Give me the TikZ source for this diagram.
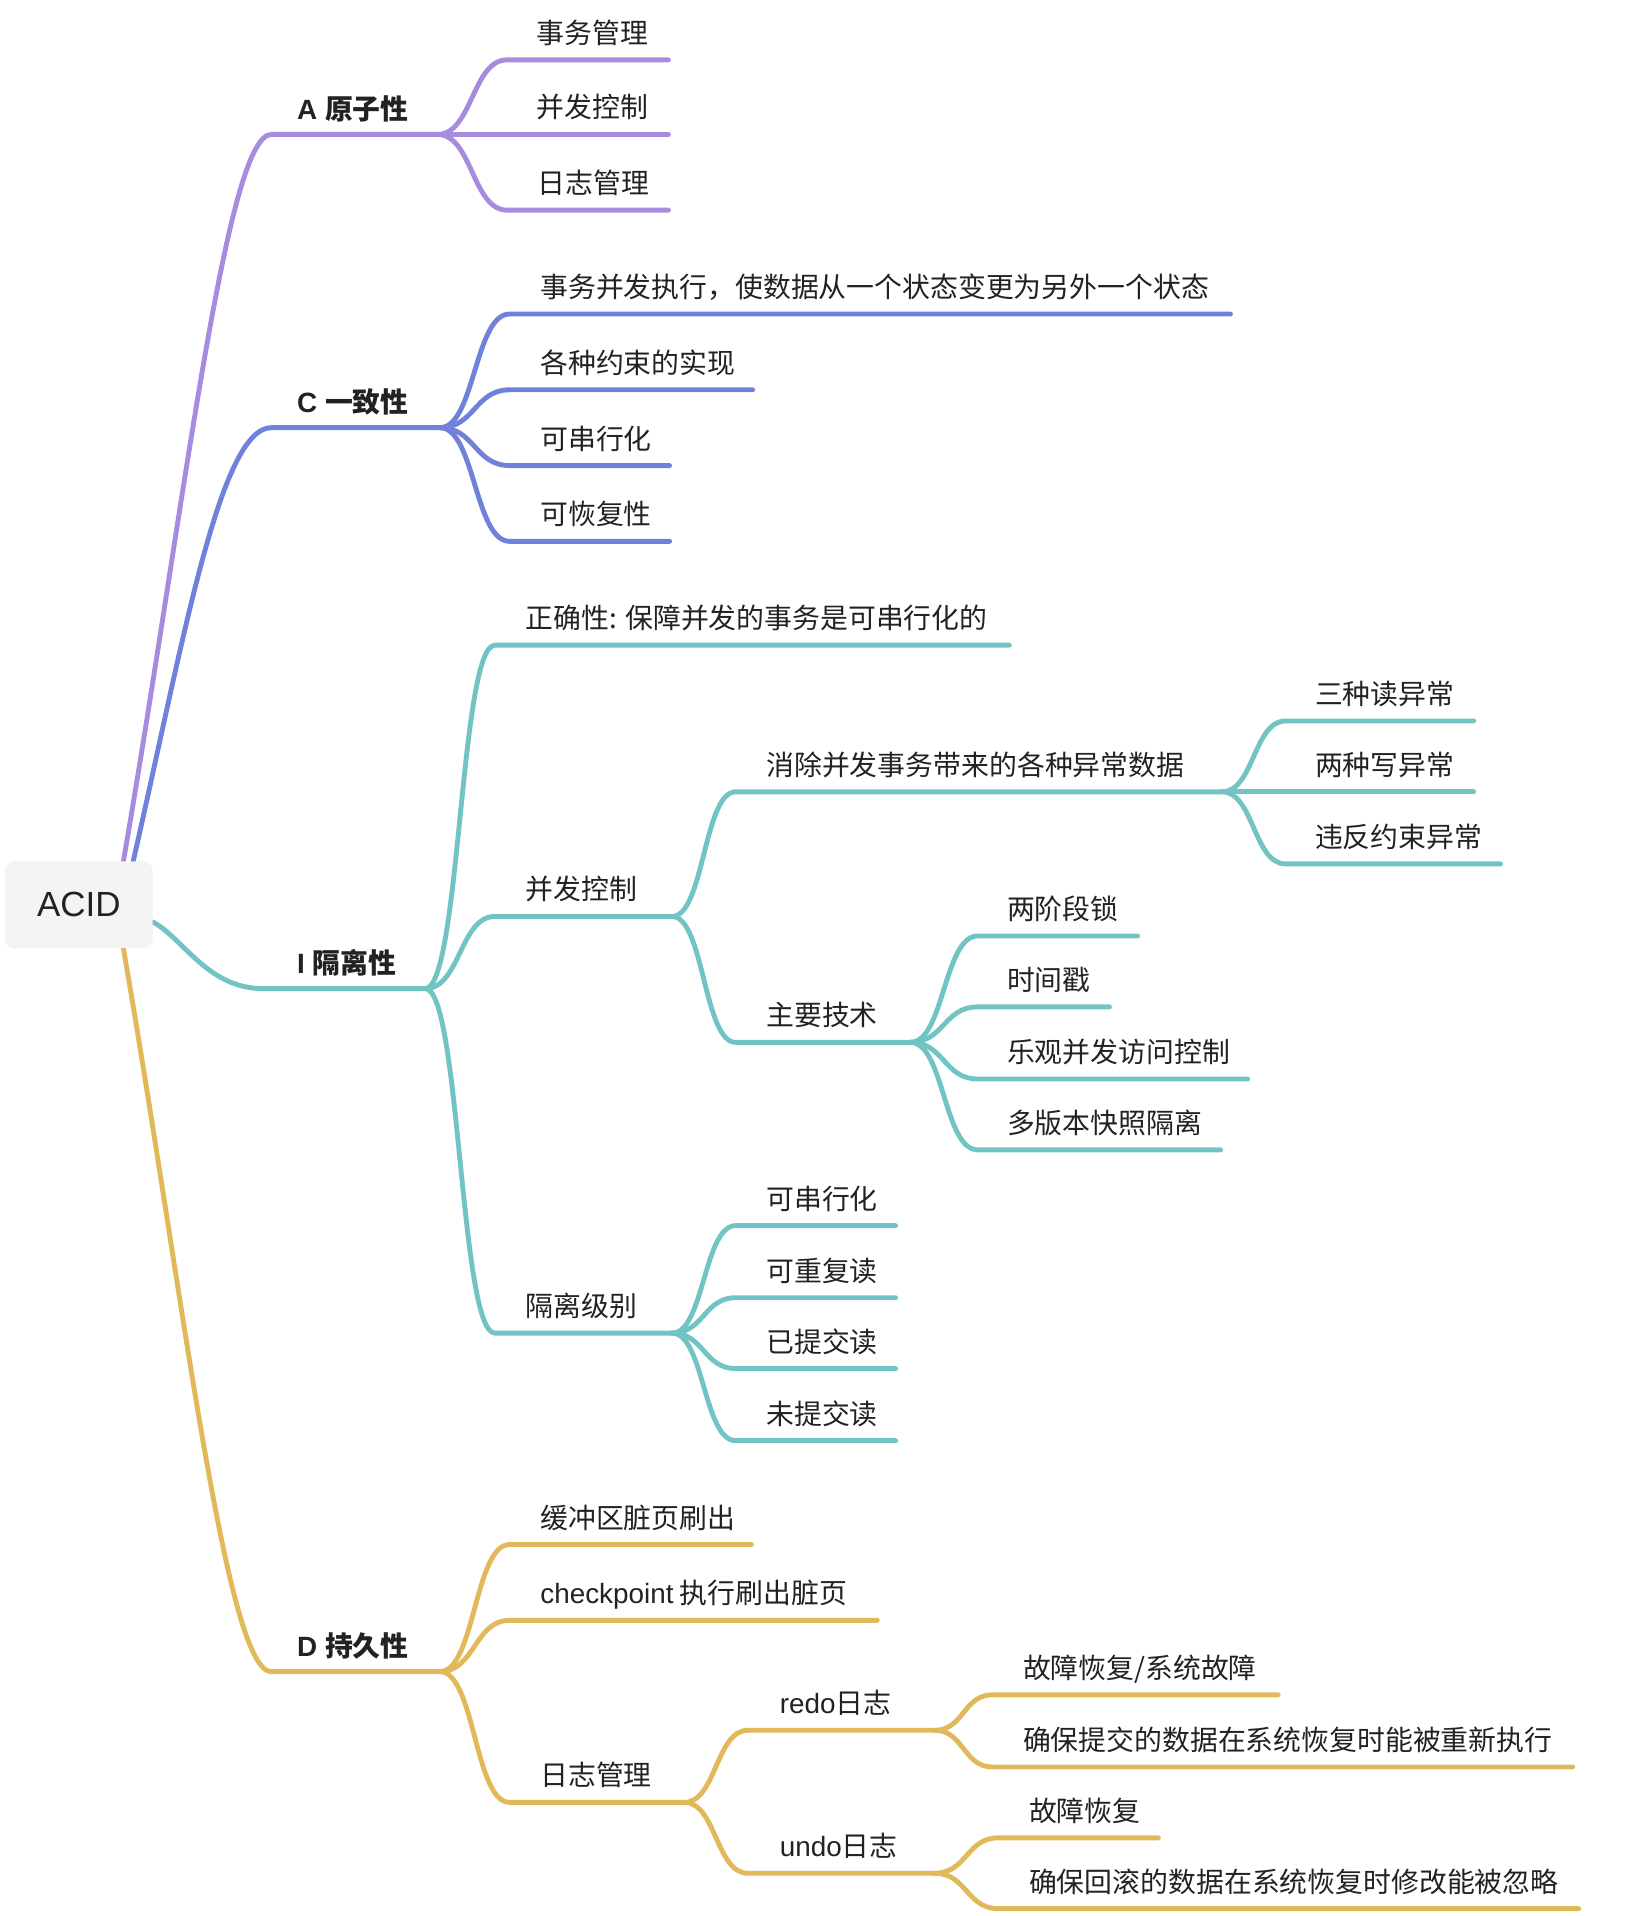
\documentclass[tikz,border=0pt]{standalone}
\usepackage{fontspec}
\setmainfont{Liberation Sans}
\newfontfamily\cjk{Noto Sans CJK SC}
\usetikzlibrary{calc}
\definecolor{cA}{HTML}{A68CDE}
\definecolor{cC}{HTML}{6F81DB}
\definecolor{cI}{HTML}{72C4C4}
\definecolor{cD}{HTML}{E1B95A}
\definecolor{txt}{HTML}{222222}
\definecolor{rootfill}{HTML}{F4F4F4}
% #1 style, #2 name, #3 text x, #4 line y, #5 line start x, #6 line end x, #7 text
\newcommand\topic[7][lbl]{%
  \node[#1] (#2) at (#3,#4-13.5) {#7};
  \coordinate (#2-s) at (#5,#4);
  \coordinate (#2-e) at (#6,#4);}
% #1 parent, #2 child, #3 colour
\newcommand\conn[3]{%
  \path ($(#1-e)!0.5!(#2-s)$) coordinate (#2-m);
  \draw[branch,#3] (#1-e) .. controls (#2-m |- #1-e) and (#2-m |- #2-s) .. (#2-s) -- (#2-e);}
\begin{document}
\begin{tikzpicture}[x=1pt, y=-1pt,
  branch/.style={line width=4pt, line cap=round, line join=round},
  lbl/.style={inner sep=0pt, anchor=base west, text=txt, font=\fontsize{22.8}{26}\selectfont\cjk},
  mainlbl/.style={lbl, font=\fontsize{22.8}{26}\selectfont\bfseries, yshift=-1pt},
  rootbox/.style={fill=rootfill, rounded corners=8pt, minimum width=121pt, minimum height=71pt,
    inner sep=0pt, text=txt, font=\fontsize{28.6}{30}\selectfont}]
\useasboundingbox (0,0) rectangle (1343.8,1568);

\node[rootbox] (root) at (64.5,740.5) {ACID};
\coordinate (rA) at ($(root.north)+(36.5,0)$);
\coordinate (rC) at ($(root.north)+(44.5,0)$);
\coordinate (rI) at ($(root.east)+(0,14)$);
\coordinate (rD) at ($(root.south)+(36.5,0)$);

% level 1
\topic[mainlbl]{A}{243}{110}{222}{358}{A {\cjk 原子性}}
\topic[mainlbl]{C}{243}{350}{222}{360}{C {\cjk 一致性}}
\topic[mainlbl]{I}{243}{809}{215}{348}{I {\cjk 隔离性}}
\topic[mainlbl]{D}{243}{1368}{222}{360}{D {\cjk 持久性}}

% A
\topic{A1}{439}{49}{415}{547}{事务管理}
\topic{A2}{439}{110}{415}{547}{并发控制}
\topic{A3}{440}{172}{415}{547}{日志管理}
% C
\topic{C1}{442}{257}{417}{1007}{事务并发执行，使数据从一个状态变更为另外一个状态}
\topic{C2}{442}{319}{417}{616}{各种约束的实现}
\topic{C3}{442}{381}{417}{548}{可串行化}
\topic{C4}{442}{443}{417}{548}{可恢复性}
% I
\topic{I1}{430}{528}{405}{826}{正确性: 保障并发的事务是可串行化的}
\topic{I2}{430}{750}{405}{550}{并发控制}
\topic{I3}{430}{1091}{405}{550}{隔离级别}
\topic{I21}{627}{648}{602}{1000}{消除并发事务带来的各种异常数据}
\topic{I22}{627}{853}{602}{745}{主要技术}
\topic{I211}{1076}{590}{1052}{1206}{三种读异常}
\topic{I212}{1076}{648}{1052}{1206}{两种写异常}
\topic{I213}{1076}{707}{1052}{1228}{违反约束异常}
\topic{I221}{824}{766}{800}{931}{两阶段锁}
\topic{I222}{824}{824}{800}{908}{时间戳}
\topic{I223}{824}{883}{800}{1021}{乐观并发访问控制}
\topic{I224}{824}{941}{800}{999}{多版本快照隔离}
\topic{I31}{627}{1003}{602}{733}{可串行化}
\topic{I32}{627}{1062}{602}{733}{可重复读}
\topic{I33}{627}{1120}{602}{733}{已提交读}
\topic{I34}{627}{1179}{602}{733}{未提交读}
% D
\topic{D1}{442}{1264}{417}{615}{缓冲区脏页刷出}
\topic{D2}{442}{1326}{417}{718}{{\rmfamily checkpoint} 执行刷出脏页}
\topic{D3}{442}{1475}{417}{560}{日志管理}
\topic{D31}{638}{1416}{612}{765}{{\rmfamily redo}日志}
\topic{D32}{638}{1533}{612}{765}{{\rmfamily undo}日志}
\topic{D311}{837}{1387}{812}{1046}{故障恢复/系统故障}
\topic{D312}{837}{1446}{812}{1287}{确保提交的数据在系统恢复时能被重新执行}
\topic{D321}{842}{1504}{817}{948}{故障恢复}
\topic{D322}{842}{1562}{817}{1292}{确保回滚的数据在系统恢复时修改能被忽略}

% root connectors
\draw[branch,cA] (rA) .. controls (150,421) and (185,110) .. (A-s) -- (A-e);
\draw[branch,cC] (rC) .. controls (150,525) and (180,350) .. (C-s) -- (C-e);
\draw[branch,cI] (rI) .. controls (150,768) and (170,809) .. (I-s) -- (I-e);
\draw[branch,cD] (rD) .. controls (150,1060) and (185,1368) .. (D-s) -- (D-e);

% A
\conn{A}{A1}{cA} \conn{A}{A2}{cA} \conn{A}{A3}{cA}
% C
\conn{C}{C1}{cC} \conn{C}{C2}{cC} \conn{C}{C3}{cC} \conn{C}{C4}{cC}
% I
\conn{I}{I1}{cI} \conn{I}{I2}{cI} \conn{I}{I3}{cI}
\conn{I2}{I21}{cI} \conn{I2}{I22}{cI}
\conn{I21}{I211}{cI} \conn{I21}{I212}{cI} \conn{I21}{I213}{cI}
\conn{I22}{I221}{cI} \conn{I22}{I222}{cI} \conn{I22}{I223}{cI} \conn{I22}{I224}{cI}
\conn{I3}{I31}{cI} \conn{I3}{I32}{cI} \conn{I3}{I33}{cI} \conn{I3}{I34}{cI}
% D
\conn{D}{D1}{cD} \conn{D}{D2}{cD} \conn{D}{D3}{cD}
\conn{D3}{D31}{cD} \conn{D3}{D32}{cD}
\conn{D31}{D311}{cD} \conn{D31}{D312}{cD}
\conn{D32}{D321}{cD} \conn{D32}{D322}{cD}

% root box drawn on top of the connector ends
\node[rootbox] at (root) {ACID};
\end{tikzpicture}
\end{document}
